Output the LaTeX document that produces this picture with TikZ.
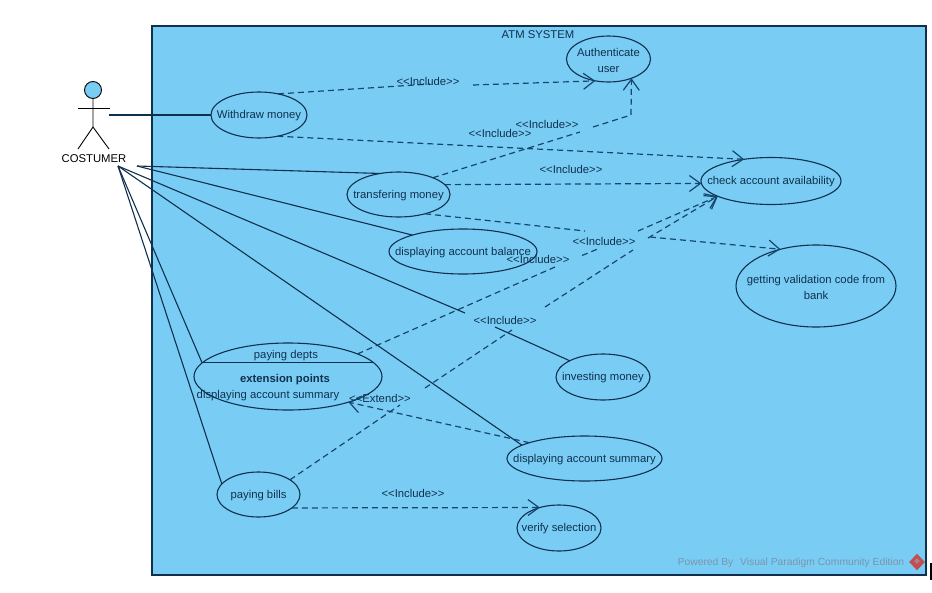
\documentclass[tikz,border=0pt]{standalone}
\usepackage{fontspec}
\setmainfont{Liberation Sans}
\usetikzlibrary{arrows.meta}
\usetikzlibrary{shapes}
\definecolor{systemblue}{RGB}{121,205,245}
\definecolor{inkblue}{RGB}{16,48,78}
\definecolor{dashblue}{RGB}{20,70,110}
\definecolor{markgray}{RGB}{122,148,172}
\definecolor{markred}{RGB}{196,78,78}
\newcommand*\includetag{<{}<Include>{}>}
\newcommand*\extendtag{<{}<Extend>{}>}
\newcommand*\costumeractor{%
    \draw[fill=systemblue] (93,90) circle (8.5);% head
    \draw (93,98.5) -- (93,127) -- (78,149);% body and left leg
    \draw (78,108) -- (110,108);% arms
    \draw (93,127) -- (109,149);% right leg
}

\begin{document}
\begin{tikzpicture}
    [%
        x=1pt,y=-1pt,%
        font=\fontsize{11.3}{16}\selectfont,%
        text=inkblue,%
        line width=1.1pt,%
        >={Straight Barb[length=11pt,width=16pt]},%
        use case/.style={%
            draw=inkblue,%
            ellipse,%
            inner sep=0pt,%
            outer sep=0pt,%
            label={[inner sep=0pt,align=center,yshift=-1pt]center:#1}%
        },%
        assoc/.style={%
            draw=inkblue%
        },%
        depend/.style={%
            draw=dashblue,%
            line width=1.2pt,%
            dash pattern=on 6pt off 4pt%
        },%
        tag/.style={%
            inner sep=0pt,%
            yshift=-1pt%
        }%
    ]%
    \useasboundingbox (0,0) rectangle (932,592);
%
    % system boundary
    \node[draw=inkblue,fill=systemblue,minimum width=774pt,minimum height=549pt,inner sep=0pt,outer sep=0pt] (atm-system) at (539,300.5) {};
    \node[tag] (atm-title) at (538,34) {ATM SYSTEM};
%
    % actor
    \begin{scope}[draw=black,line width=0.9pt]
        \costumeractor
    \end{scope}
    \node[tag,text=black] (costumer) at (94,158) {COSTUMER};
    \coordinate (costumer-hand) at (109,115);
    \coordinate (costumer-east) at (137,166);
    \coordinate (costumer-south) at (118,166);
%
    % use cases
    \node[use case={Authenticate\\user},minimum width=84pt,minimum height=46pt] (authenticate) at (608.5,59) {};
    \node[use case={Withdraw money},minimum width=96pt,minimum height=46pt] (withdraw) at (259,115) {};
    \node[use case={transfering money},minimum width=103pt,minimum height=45pt] (transfering) at (398.5,194.5) {};
    \node[use case={displaying account balance},minimum width=148pt,minimum height=45pt] (balance) at (463,251.5) {};
    \node[use case={check account availability},minimum width=140pt,minimum height=47pt] (check) at (771,181) {};
    \node[use case={getting validation code from\\bank},minimum width=160pt,minimum height=82pt] (validation) at (816,286) {};
    \node[use case={investing money},minimum width=94pt,minimum height=46pt] (investing) at (603,377) {};
    \node[use case={},minimum width=188pt,minimum height=67pt] (depts) at (288,376.5) {};
    \node[use case={displaying account summary},minimum width=155pt,minimum height=45pt] (summary) at (584.5,458.5) {};
    \node[use case={paying bills},minimum width=83pt,minimum height=45pt] (bills) at (258.5,494.5) {};
    \node[use case={verify selection},minimum width=84pt,minimum height=46pt] (verify) at (559,528) {};
%
    % compartments of the paying depts case
    \draw[assoc] (depts.171) -- (depts.9);
    \node[tag] (depts-name) at (286,354.5) {paying depts};
    \node[tag,font=\fontsize{11.3}{16}\selectfont\bfseries] (depts-points) at (285,378.5) {extension points};
    \node[tag] (depts-point) at (268,395) {displaying account summary};
%
    % actor associations
    \draw[assoc] (costumer-hand) -- (withdraw.west);
    \draw[assoc] (costumer-east) -- (transfering.131);
    \draw[assoc] (costumer-east) -- (balance.162);
    \coordinate (investing-gap-a) at (465,313);
    \coordinate (investing-gap-b) at (495,327);
    \draw[assoc] (costumer-south) -- (investing-gap-a);
    \draw[assoc] (investing-gap-b) -- (investing.154);
    \draw[assoc] (costumer-south) -- (summary.168);
    \draw[assoc] (costumer-south) -- (depts.171);
    \draw[assoc] (costumer-south) -- (bills.164);
%
    % include and extend dependencies
    \coordinate (withdraw-gap-a) at (430,84);
    \coordinate (withdraw-gap-b) at (473,85);
    \draw[depend] (withdraw.48) -- (withdraw-gap-a);
    \draw[depend,->] (withdraw-gap-b) -- (authenticate.239);
    \draw[depend,->] (withdraw.-49) -- (check.141);
%
    \coordinate (transfering-gap-a) at (580,132);
    \coordinate (transfering-gap-b) at (593,127);
    \coordinate (transfering-bend) at (631,115);
    \draw[depend] (transfering.26) -- (transfering-gap-a);
    \draw[depend,->] (transfering-gap-b) -- (transfering-bend) -- (authenticate.-40);
    \draw[depend,->] (transfering.12) -- (check.182);
    \coordinate (validation-gap-a) at (585,231);
    \coordinate (validation-gap-b) at (650,237);
    \draw[depend] (transfering.-36) -- (validation-gap-a);
    \draw[depend,->] (validation-gap-b) -- (validation.134);
%
    \coordinate (depts-gap-a) at (555,267);
    \coordinate (depts-gap-b) at (582,255.5);
    \coordinate (depts-gap-c) at (600,248);
    \coordinate (depts-gap-d) at (638,231);
    \draw[depend] (depts.18) -- (depts-gap-a);
    \draw[depend] (depts-gap-b) -- (depts-gap-c);
    \draw[depend,->] (depts-gap-d) -- (check.196);
%
    \coordinate (bills-gap-a) at (400,405);
    \coordinate (bills-gap-b) at (425,388);
    \coordinate (bills-gap-c) at (512,330);
    \coordinate (bills-gap-d) at (545,307);
    \coordinate (bills-gap-e) at (633,250);
    \coordinate (bills-gap-f) at (648,238);
    \draw[depend] (bills.25) -- (bills-gap-a);
    \draw[depend] (bills-gap-b) -- (bills-gap-c);
    \draw[depend] (bills-gap-d) -- (bills-gap-e);
    \draw[depend,->] (bills-gap-f) -- (check.196);
    \draw[depend,->] (bills.-22) -- (verify.133);
    \draw[depend,->] (summary.164) -- (depts.-23);
%
    % dependency labels
    \node[tag] (include-withdraw-auth) at (428,80) {\includetag};
    \node[tag] (include-transfer-auth) at (547,123) {\includetag};
    \node[tag] (include-withdraw-check) at (500,132) {\includetag};
    \node[tag] (include-transfer-check) at (571,168) {\includetag};
    \node[tag] (include-transfer-code) at (604,240) {\includetag};
    \node[tag] (include-depts-check) at (538,258) {\includetag};
    \node[tag] (include-bills-check) at (505,319) {\includetag};
    \node[tag] (extend-summary) at (380,397) {\extendtag};
    \node[tag] (include-bills-verify) at (413,492) {\includetag};
%
    % editor mark
    \node[tag,text=markgray,font=\fontsize{10.3}{12}\selectfont] (powered-by) at (791,562) {Powered By\hspace{4pt} Visual Paradigm Community Edition};
    \node[diamond,fill=markred,inner sep=0pt,minimum width=16pt,minimum height=17pt] (powered-icon) at (917,562) {};
    \node[diamond,fill=systemblue!40!markred,inner sep=0pt,minimum width=6pt,minimum height=6pt] (powered-icon-core) at (917,561) {};
    \draw[black] (931,563) -- (931,580);
\end{tikzpicture}
\end{document}
